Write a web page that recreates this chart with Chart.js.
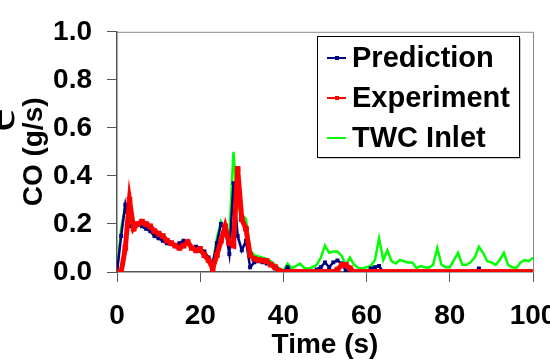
<!DOCTYPE html>
<html>
<head>
<meta charset="utf-8">
<script src="https://cdn.jsdelivr.net/npm/chart.js@4.4.1/dist/chart.umd.min.js"></script>
<style>
  html, body { margin: 0; padding: 0; background: #fff; overflow: hidden; }
  #wrap { position: relative; width: 600px; height: 361px; }
</style>
</head>
<body>
<div id="wrap"><canvas id="chart"></canvas></div>
<script>
// time (s)
const times = [
  0, 1, 2, 3, 4, 5, 6, 7, 8, 9, 10, 11, 12, 13, 14, 15, 16, 17, 18, 19,
  20, 21, 22, 23, 24, 25, 26, 27, 28, 29, 30, 31, 32, 33, 34, 35, 36, 37, 38, 39,
  40, 41, 42, 43, 44, 45, 46, 47, 48, 49, 50, 51, 52, 53, 54, 55, 56, 57, 58, 59,
  60, 61, 62, 63, 64, 65, 66, 67, 68, 69, 70, 71, 72, 73, 74, 75, 76, 77, 78, 79,
  80, 81, 82, 83, 84, 85, 86, 87, 88, 89, 90, 91, 92, 93, 94, 95, 96, 97, 98, 99, 100
];

// CO (g/s)
const prediction = [
  0, 0.15, 0.28, 0.19, 0.19, 0.20, 0.19, 0.18, 0.17, 0.15, 0.14, 0.13, 0.12, 0.12, 0.11, 0.12, 0.13, 0.12, 0.10, 0.105,
  0.10, 0.085, 0.06, 0.035, 0.12, 0.20, 0.18, 0.075, 0.37, 0.15, 0.09, 0.13, 0.02, 0.04, 0.045, 0.04, 0.035, 0.03, 0.015, 0.005,
  0, 0.02, 0, 0, 0, 0, 0, 0, 0.01, 0.02, 0.04, 0.02, 0.04, 0.048, 0.035, 0.005, 0, 0, 0, 0,
  0, 0.015, 0.02, 0.025, 0, 0, 0, 0, 0, 0, 0, 0, 0, 0, 0, 0, 0, 0, 0, 0,
  0, 0, 0, 0, 0, 0, 0, 0.015, 0, 0, 0, 0, 0, 0, 0, 0, 0, 0, 0, 0, 0
];

const experiment = [
  0, 0, 0.10, 0.30, 0.18, 0.20, 0.21, 0.20, 0.19, 0.17, 0.16, 0.15, 0.13, 0.12, 0.11, 0.10, 0.11, 0.125, 0.10, 0.09,
  0.095, 0.07, 0.05, 0.015, 0.07, 0.13, 0.19, 0.12, 0.11, 0.43, 0.22, 0.18, 0.07, 0.055, 0.05, 0.048, 0.045, 0.03, 0.02, 0.005,
  0, 0, 0, 0, 0, 0, 0, 0, 0, 0, 0, 0, 0, 0.01, 0.028, 0.03, 0.015, 0, 0, 0,
  0, 0, 0, 0, 0, 0, 0, 0, 0, 0, 0, 0, 0, 0, 0, 0, 0, 0, 0, 0,
  0, 0, 0, 0, 0, 0, 0, 0, 0, 0, 0, 0, 0, 0, 0, 0, 0, 0, 0, 0, 0
];

const twcInlet = [
  0, 0.18, 0.28, 0.21, 0.19, 0.20, 0.19, 0.18, 0.17, 0.15, 0.14, 0.13, 0.12, 0.115, 0.11, 0.115, 0.125, 0.115, 0.10, 0.10,
  0.095, 0.08, 0.05, 0.03, 0.14, 0.21, 0.17, 0.15, 0.50, 0.27, 0.24, 0.22, 0.09, 0.07, 0.065, 0.06, 0.055, 0.045, 0.03, 0.015,
  0.005, 0.035, 0.015, 0.025, 0.035, 0.017, 0.015, 0.02, 0.03, 0.06, 0.11, 0.08, 0.085, 0.085, 0.067, 0.03, 0.06, 0.03, 0.017, 0.015,
  0.02, 0.025, 0.05, 0.14, 0.05, 0.09, 0.045, 0.035, 0.05, 0.045, 0.04, 0.04, 0.017, 0.025, 0.02, 0.018, 0.03, 0.10, 0.03, 0.02,
  0.02, 0.05, 0.08, 0.03, 0.03, 0.04, 0.06, 0.105, 0.08, 0.045, 0.04, 0.03, 0.05, 0.08, 0.03, 0.02, 0.017, 0.04, 0.05, 0.045, 0.06
];

const xTicks = [0, 20, 40, 60, 80, 100];
const yTicks = [0, 0.2, 0.4, 0.6, 0.8, 1.0];

const FONT = 'Arial, "Liberation Sans", sans-serif';

function toPoints(values) {
  return values.map((v, i) => ({ x: times[i], y: v }));
}

// grey frame on top and right of the plot
const framePlugin = {
  id: 'frame',
  beforeDatasetsDraw(chart) {
    const { ctx, chartArea: a } = chart;
    ctx.save();
    ctx.strokeStyle = '#8a8a8a';
    ctx.lineWidth = 1;
    ctx.beginPath();
    ctx.moveTo(a.left, a.top + 0.5);
    ctx.lineTo(a.right + 0.5, a.top + 0.5);
    ctx.lineTo(a.right + 0.5, a.bottom);
    ctx.stroke();
    ctx.restore();
  }
};

// boxed legend inside the plot, like the original
const boxLegend = {
  id: 'boxLegend',
  afterDraw(chart) {
    const ctx = chart.ctx;
    const box = { x: 317, y: 36, w: 202, h: 121 };
    ctx.save();
    ctx.fillStyle = '#c8c8c8';
    ctx.fillRect(box.x + 2, box.y + 2, box.w, box.h);
    ctx.fillStyle = '#fff';
    ctx.fillRect(box.x, box.y, box.w, box.h);
    ctx.strokeStyle = '#000';
    ctx.lineWidth = 1;
    ctx.strokeRect(box.x + 0.5, box.y + 0.5, box.w, box.h);

    const rows = [58, 98, 138];
    chart.data.datasets.forEach((ds, i) => {
      const y = rows[i];
      ctx.strokeStyle = ds.borderColor;
      ctx.lineWidth = 2;
      ctx.beginPath();
      ctx.moveTo(327, y);
      ctx.lineTo(346, y);
      ctx.stroke();
      if (ds.pointRadius > 0) {
        ctx.fillStyle = ds.borderColor;
        ctx.fillRect(335, y - 2, 4, 4);
      }
      ctx.fillStyle = '#000';
      ctx.font = 'bold 29px ' + FONT;
      ctx.textBaseline = 'middle';
      ctx.textAlign = 'left';
      ctx.fillText(ds.label, 352, y + 1);
    });
    ctx.restore();

    // clipped remnant of a neighbouring label at the far left
    ctx.save();
    ctx.translate(14, 120);
    ctx.rotate(-Math.PI / 2);
    ctx.fillStyle = '#000';
    ctx.font = '52px "Liberation Serif", "Times New Roman", serif';
    ctx.textAlign = 'center';
    ctx.textBaseline = 'alphabetic';
    ctx.fillText('e', 0, 0);
    ctx.restore();
  }
};

new Chart(document.getElementById('chart'), {
  type: 'line',
  data: {
    datasets: [
      {
        label: 'Prediction',
        data: toPoints(prediction),
        borderColor: '#000080',
        backgroundColor: '#000080',
        borderWidth: 2.5,
        pointStyle: 'rect',
        pointRadius: 2.8,
        pointBorderWidth: 0,
        order: 1
      },
      {
        label: 'Experiment',
        data: toPoints(experiment),
        borderColor: '#ff0000',
        backgroundColor: '#ff0000',
        borderWidth: 5,
        pointStyle: 'rect',
        pointRadius: 4,
        pointBorderWidth: 0,
        order: 0
      },
      {
        label: 'TWC Inlet',
        data: toPoints(twcInlet),
        borderColor: '#00ff00',
        backgroundColor: '#00ff00',
        borderWidth: 2.5,
        pointRadius: 0,
        order: 2
      }
    ]
  },
  options: {
    responsive: true,
    maintainAspectRatio: false,
    animation: false,
    events: [],
    layout: { padding: { left: 0, right: 67, top: 20, bottom: 0 } },
    plugins: {
      legend: { display: false },
      tooltip: { enabled: false }
    },
    scales: {
      x: {
        type: 'linear',
        min: 0,
        max: 100,
        afterFit(scale) { scale.height = 89; },
        afterBuildTicks(scale) { scale.ticks = xTicks.map(v => ({ value: v })); },
        grid: { drawOnChartArea: false, color: '#555', tickLength: 10 },
        border: { color: '#555', width: 1.5 },
        ticks: {
          color: '#000',
          padding: 17,
          maxRotation: 0,
          font: { family: FONT, size: 28, weight: 'bold' },
          callback: v => String(v)
        },
        title: {
          display: true,
          text: 'Time (s)',
          color: '#000',
          padding: { top: 0, bottom: 2 },
          font: { family: FONT, size: 28, weight: 'bold', lineHeight: 1.0 }
        }
      },
      y: {
        min: 0,
        max: 1,
        afterFit(scale) { scale.width = 117; },
        afterBuildTicks(scale) { scale.ticks = yTicks.map(v => ({ value: v })); },
        grid: { drawOnChartArea: false, color: '#555', tickLength: 10 },
        border: { color: '#555', width: 1.5 },
        ticks: {
          color: '#000',
          padding: 15,
          font: { family: FONT, size: 28, weight: 'bold' },
          callback: v => Number(v).toFixed(1)
        },
        title: {
          display: true,
          text: 'CO (g/s)',
          color: '#000',
          padding: { top: 17, bottom: 0 },
          font: { family: FONT, size: 28, weight: 'bold' }
        }
      }
    }
  },
  plugins: [framePlugin, boxLegend]
});
</script>
</body>
</html>
